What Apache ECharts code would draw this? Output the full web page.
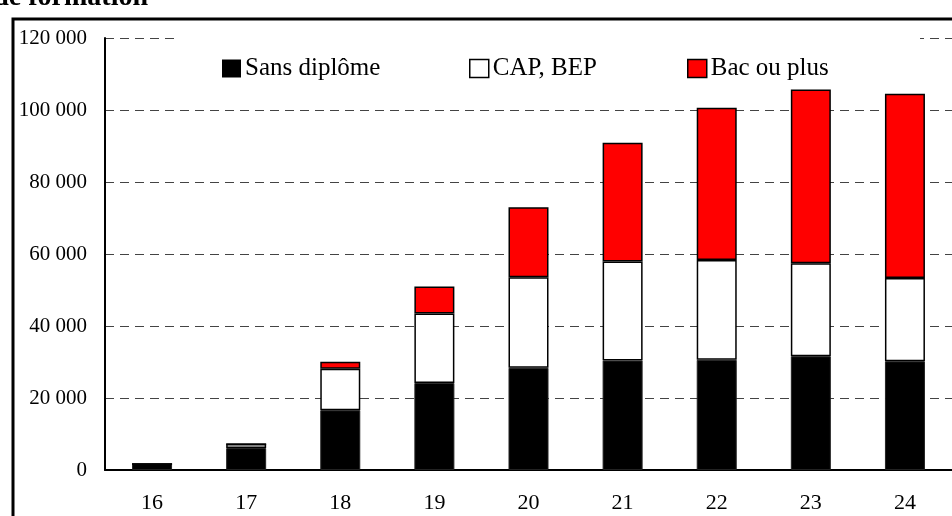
<!DOCTYPE html>
<html>
<head>
<meta charset="utf-8">
<script src="https://cdn.jsdelivr.net/npm/echarts@6/dist/echarts.min.js"></script>
<style>
  html, body { margin: 0; padding: 0; background: #fff; }
  #chart { width: 952px; height: 516px; }
</style>
</head>
<body>
<div id="chart"></div>
<script>
// ages on the x axis
var ages = ['16', '17', '18', '19', '20', '21', '22', '23', '24'];
// stacked values
var sansDiplome = [1700, 6100, 16600, 24200, 28400, 30400, 30600, 31600, 30200];
var capBep = [0, 1100, 11500, 19300, 25150, 27500, 27700, 25800, 23100];
var bacOuPlus = [0, 0, 2000, 7500, 19450, 33000, 42300, 48300, 51200];

var serif = '"Liberation Serif", "DejaVu Serif", serif';

function withSpaces(v) {
  return String(v).replace(/\B(?=(\d{3})+(?!\d))/g, ' ');
}

var myChart = echarts.init(document.getElementById('chart'));

var option = {
  animation: false,
  backgroundColor: '#fff',
  textStyle: { fontFamily: serif, color: '#000' },
  grid: { left: 105, right: -10, top: 38, bottom: 46 },
  graphic: [
    {
      type: 'rect',
      z: 10,
      shape: { x: 13, y: 19, width: 1000, height: 600 },
      style: { fill: 'none', stroke: '#000', lineWidth: 3 }
    },
    {
      // white box behind the legend, hides the top gridline
      type: 'rect',
      z: 1,
      shape: { x: 176, y: 30, width: 744, height: 72 },
      style: { fill: '#fff' }
    },
    {
      type: 'text',
      z: 10,
      x: 148,
      y: -2,
      style: {
        text: 'de formation',
        font: 'bold 28px ' + serif,
        fill: '#000',
        align: 'right',
        verticalAlign: 'middle'
      }
    }
  ],
  legend: [
    {
      data: [{ name: 'Sans diplôme', itemStyle: { color: '#000', borderWidth: 0 } }],
      left: 222, top: 56
    },
    {
      data: [{ name: 'CAP, BEP', itemStyle: { color: '#fff', borderColor: '#000', borderWidth: 1.5 } }],
      left: 469, top: 56
    },
    {
      data: [{ name: 'Bac ou plus', itemStyle: { color: '#ff0000', borderColor: '#000', borderWidth: 1.5 } }],
      left: 687, top: 56
    }
  ].map(function (l) {
    l.padding = 0;
    l.icon = 'rect';
    l.itemWidth = 19;
    l.itemHeight = 18;
    l.selectedMode = false;
    l.textStyle = { fontFamily: serif, fontSize: 25, color: '#000', padding: [0, 0, 0, -1] };
    return l;
  }),
  xAxis: {
    type: 'category',
    data: ages,
    axisLine: { lineStyle: { color: '#000', width: 2 } },
    axisTick: { show: false },
    axisLabel: { fontFamily: serif, fontSize: 22, color: '#000', margin: 22 }
  },
  yAxis: {
    type: 'value',
    min: 0,
    max: 120000,
    interval: 20000,
    axisLine: { show: true, lineStyle: { color: '#000', width: 2 } },
    axisTick: { show: false },
    axisLabel: {
      fontFamily: serif, fontSize: 21, color: '#000', margin: 18,
      formatter: withSpaces
    },
    splitLine: { lineStyle: { color: '#444', width: 1, type: [9, 6] } }
  },
  series: [
    {
      name: 'Sans diplôme',
      type: 'bar',
      stack: 'total',
      barWidth: 40,
      z: 2,
      data: sansDiplome,
      itemStyle: { color: '#000', borderColor: '#222', borderWidth: 1 }
    },
    {
      name: 'CAP, BEP',
      type: 'bar',
      stack: 'total',
      barWidth: 40,
      z: 2,
      data: capBep,
      itemStyle: { color: '#fff', borderColor: '#000', borderWidth: 1.5 }
    },
    {
      name: 'Bac ou plus',
      type: 'bar',
      stack: 'total',
      barWidth: 40,
      z: 2,
      data: bacOuPlus,
      itemStyle: { color: '#ff0000', borderColor: '#000', borderWidth: 1.5 }
    }
  ]
};

myChart.setOption(option);
</script>
</body>
</html>
